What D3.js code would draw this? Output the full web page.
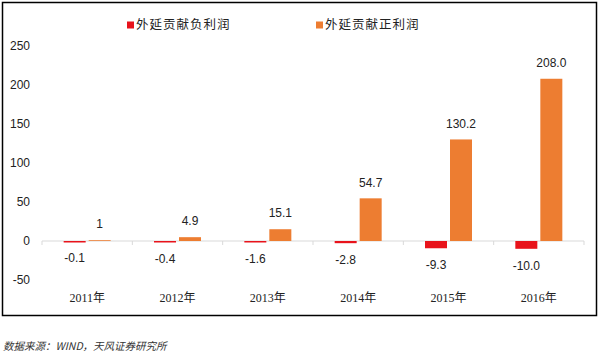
<!DOCTYPE html>
<html><head><meta charset="utf-8">
<script src="https://cdn.jsdelivr.net/npm/d3@7"></script>
<style>body{margin:0;background:#fff}svg{display:block}</style>
</head><body><div id="c"></div>
<script>
const categories = ["2011年","2012年","2013年","2014年","2015年","2016年"];
const seriesNames = ["外延贡献负利润","外延贡献正利润"];
const negValues = [-0.1,-0.4,-1.6,-2.8,-9.3,-10.0];
const posValues = [1,4.9,15.1,54.7,130.2,208.0];
const negLabels = ["-0.1","-0.4","-1.6","-2.8","-9.3","-10.0"];
const posLabels = ["1","4.9","15.1","54.7","130.2","208.0"];
const yTicks = [-50,0,50,100,150,200,250];
const colors = ["#e8131b","#ed7d31"];

const W=600,H=357;
const svg=d3.select("#c").append("svg").attr("width",W).attr("height",H);
svg.append("rect").attr("x",2.5).attr("y",2.5).attr("width",594).attr("height",313)
  .attr("fill","#fff").attr("stroke","#000").attr("stroke-width",1.5);

const x=d3.scaleBand().domain(categories).range([42,584]).padding(0);
const y=d3.scaleLinear().domain([-50,250]).range([280,46]);
const inner=d3.scaleBand().domain([0,1]).range([-23.5,23.5]).paddingInner(0.12);

const numFont="'Liberation Sans', Arial, sans-serif";
// y tick labels
svg.append("g").selectAll("text").data(yTicks).join("text")
  .attr("x",30).attr("y",d=>y(d)).attr("dy","0.35em").attr("text-anchor","end")
  .attr("font-family",numFont).attr("font-size",12).attr("fill","#222").text(d=>d);

// axis line and ticks
svg.append("line").attr("x1",42).attr("x2",584).attr("y1",y(0)).attr("y2",y(0))
  .attr("stroke","#d9d9d9").attr("stroke-width",1);
const bounds=categories.map(c=>x(c)).concat([x.range()[1]]);
svg.append("g").selectAll("line").data(bounds).join("line")
  .attr("x1",d=>d).attr("x2",d=>d).attr("y1",y(0)).attr("y2",y(0)+4)
  .attr("stroke","#d9d9d9");

const g=svg.append("g");
// negative bars
g.selectAll("rect.neg").data(negValues).join("rect").attr("class","neg")
  .attr("x",(d,i)=>x(categories[i])+x.bandwidth()/2+inner(0))
  .attr("width",inner.bandwidth())
  .attr("y",y(0))
  .attr("height",d=>Math.max(1.5,y(d)-y(0)))
  .attr("fill",colors[0]);
g.selectAll("rect.pos").data(posValues).join("rect").attr("class","pos")
  .attr("x",(d,i)=>x(categories[i])+x.bandwidth()/2+inner(1))
  .attr("width",inner.bandwidth())
  .attr("y",d=>y(d))
  .attr("height",d=>y(0)-y(d))
  .attr("fill",colors[1]);

// labels
g.selectAll("text.neg").data(negValues).join("text")
  .attr("x",(d,i)=>x(categories[i])+x.bandwidth()/2+inner(0)+inner.bandwidth()/2)
  .attr("y",d=>y(d)+Math.max(0,0)+17).attr("dy","0.35em").attr("text-anchor","middle")
  .attr("font-family",numFont).attr("font-size",12).attr("fill","#222")
  .text((d,i)=>negLabels[i]);
g.selectAll("text.pos").data(posValues).join("text")
  .attr("x",(d,i)=>x(categories[i])+x.bandwidth()/2+inner(1)+inner.bandwidth()/2)
  .attr("y",d=>y(d)-16).attr("dy","0.35em").attr("text-anchor","middle")
  .attr("font-family",numFont).attr("font-size",12).attr("fill","#222")
  .text((d,i)=>posLabels[i]);

// category labels
svg.append("g").selectAll("text").data(categories).join("text")
  .attr("x",d=>x(d)+x.bandwidth()/2).attr("y",298).attr("dy","0.35em")
  .attr("text-anchor","middle").attr("font-family","'Liberation Serif','Noto Sans CJK SC',serif")
  .attr("font-size",12).attr("fill","#222").text(d=>d);

// legend
const lx=[127,316];
const leg=svg.append("g").selectAll("g").data(seriesNames).join("g")
  .attr("transform",(d,i)=>`translate(${lx[i]},25)`);
leg.append("rect").attr("x",0).attr("y",-3.5).attr("width",7).attr("height",7).attr("fill",(d,i)=>colors[i]);
leg.append("text").attr("x",9).attr("y",0).attr("dy","0.35em")
  .attr("font-family","'Noto Sans CJK SC',sans-serif").attr("font-size",12.5).attr("fill","#222")
  .attr("letter-spacing",1).text(d=>d);

// source
svg.append("text").attr("x",3).attr("y",346).attr("dy","0.35em")
  .attr("font-family","'Noto Sans CJK SC',sans-serif").attr("font-size",10.5)
  .attr("font-style","italic").attr("fill","#333").text("数据来源：WIND，天风证券研究所");
</script></body></html>
